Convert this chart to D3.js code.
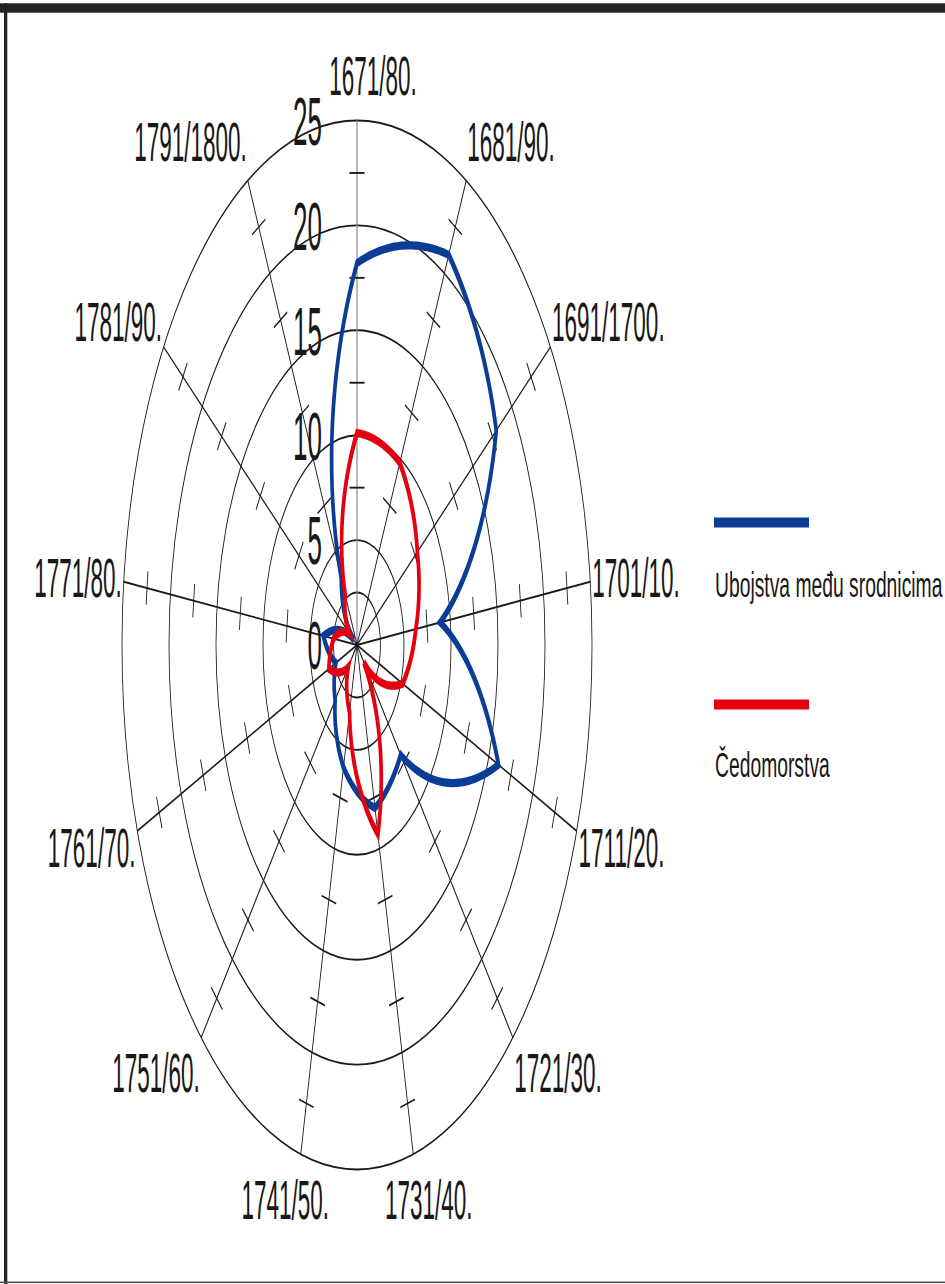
<!DOCTYPE html>
<html>
<head>
<meta charset="utf-8">
<script src="https://cdn.jsdelivr.net/npm/d3@7/dist/d3.min.js"></script>
<style>
  html, body { margin: 0; padding: 0; background: #fff; }
  svg { display: block; }
  text { font-family: "Liberation Sans", Arial, Helvetica, sans-serif; fill: #1a1718; }
</style>
</head>
<body>
<script>
// ---- data ----
const categories = ["1671/80.", "1681/90.", "1691/1700.", "1701/10.", "1711/20.", "1721/30.",
  "1731/40.", "1741/50.", "1751/60.", "1761/70.", "1771/80.", "1781/90.", "1791/1800."];
const ubojstva = [18.2, 21.0, 18.0, 8.9, 16.1, 7.0, 8.0, 6.0, 3.5, 2.4, 3.6, 0.4, 3.6];
const cedomorstva = [10.1, 9.8, 7.8, 6.3, 5.2, 1.1, 9.3, 3.3, 1.4, 3.2, 2.5, 1.0, 2.7];
const seriesNames = ["Ubojstva među srodnicima", "Čedomorstva"];
const seriesColors = ["#0b3c96", "#e5000f"];
const axisTickLabels = [0, 5, 10, 15, 20, 25];
const ringValues = [2.5, 5, 10, 15, 20, 25];
const minorTickValues = [7.5, 12.5, 17.5, 22.5];

// ---- layout ----
const W = 945, H = 1284;
const cx = 357, cy = 645;
const R = 235;          // horizontal radius of outer ring
const SY = 2.232;       // vertical stretch of the polar plot
const n = categories.length;

const svg = d3.select("body").append("svg").attr("width", W).attr("height", H);
svg.append("rect").attr("width", W).attr("height", H).attr("fill", "#fff");

const r = d3.scaleLinear().domain([0, 25]).range([0, R]);
const ang = d3.scaleLinear().domain([0, n]).range([0, 2 * Math.PI]);

const plot = svg.append("g").attr("transform", `translate(${cx},${cy}) scale(1,${SY})`);

// rings
plot.selectAll("circle.ring").data(ringValues).join("circle")
  .attr("class", "ring").attr("r", d => r(d))
  .attr("fill", "none").attr("stroke", "#1a1a1a").attr("stroke-width", 0.85);

// spokes
plot.selectAll("line.spoke").data(categories).join("line")
  .attr("class", "spoke")
  .attr("x1", 0).attr("y1", 0)
  .attr("x2", (d, i) => Math.sin(ang(i)) * r(25))
  .attr("y2", (d, i) => -Math.cos(ang(i)) * r(25))
  .attr("stroke", (d, i) => i === 0 ? "#8a8a8a" : "#1a1a1a")
  .attr("stroke-width", (d, i) => i === 0 ? 1.2 : 0.85);

// minor ticks on spokes
const tickData = [];
categories.forEach((c, i) => minorTickValues.forEach(v => tickData.push({ i, v })));
const TL = 7.5;
plot.selectAll("line.tick").data(tickData).join("line")
  .attr("class", "tick")
  .attr("x1", d => Math.sin(ang(d.i)) * r(d.v) - Math.cos(ang(d.i)) * TL)
  .attr("y1", d => -Math.cos(ang(d.i)) * r(d.v) - Math.sin(ang(d.i)) * TL)
  .attr("x2", d => Math.sin(ang(d.i)) * r(d.v) + Math.cos(ang(d.i)) * TL)
  .attr("y2", d => -Math.cos(ang(d.i)) * r(d.v) + Math.sin(ang(d.i)) * TL)
  .attr("stroke", "#1a1a1a").attr("stroke-width", 0.85);

// series: radius changes linearly with angle between categories (polar-linear joins)
const STEPS = 40;
function polarPath(values) {
  const pts = [];
  values.forEach((v, i) => {
    const v1 = values[(i + 1) % n];
    for (let s = 0; s < STEPS; s++) {
      const t = s / STEPS;
      pts.push([ang(i + t), r(v + (v1 - v) * t)]);
    }
  });
  return d3.lineRadial().angle(d => d[0]).radius(d => d[1]).curve(d3.curveLinearClosed)(pts);
}
[ubojstva, cedomorstva].forEach((vals, si) => {
  plot.append("path").attr("d", polarPath(vals))
    .attr("fill", "none").attr("stroke", seriesColors[si])
    .attr("stroke-width", 3.7).attr("stroke-linejoin", "miter").attr("stroke-miterlimit", 6);
});

// radial axis labels
axisTickLabels.forEach(v => {
  svg.append("g").attr("transform", `translate(322,${cy - r(v) * SY}) scale(1,2.6)`)
    .append("text").attr("text-anchor", "end").attr("dy", "0.36em")
    .attr("font-size", 26).text(v);
});

// category labels
categories.forEach((c, i) => {
  const a = ang(i), s = Math.sin(a);
  let x, anchor;
  if (s > 0.4) { x = cx + s * 237; anchor = "start"; }
  else if (s < -0.4) { x = cx + s * 237; anchor = "end"; }
  else { x = cx + s * 300 + (i === 0 ? 16 : 0); anchor = "middle"; }
  const y = cy - Math.cos(a) * 570;
  svg.append("g").attr("transform", `translate(${x},${y}) scale(1,2.5)`)
    .append("text").attr("text-anchor", anchor).attr("dy", "0.36em")
    .attr("font-size", 22.5).text(c);
});

// legend
const legendY = [522.5, 704.5];
const legendTextY = [597, 777];
seriesNames.forEach((name, i) => {
  svg.append("line").attr("x1", 714).attr("x2", 809)
    .attr("y1", legendY[i]).attr("y2", legendY[i])
    .attr("stroke", seriesColors[i]).attr("stroke-width", 10);
  svg.append("g").attr("transform", `translate(715,${legendTextY[i]}) scale(1,1.81)`)
    .append("text").attr("font-size", 19.3).text(name);
});

// frame
svg.append("rect").attr("x", 0).attr("y", 3.3).attr("width", W).attr("height", 9.4).attr("fill", "#222");
svg.append("rect").attr("x", 4).attr("y", 3.3).attr("width", 3.3).attr("height", H - 3.3).attr("fill", "#222");
svg.append("rect").attr("x", 0).attr("y", 1281.5).attr("width", W).attr("height", 1.6).attr("fill", "#555");
</script>
</body>
</html>
